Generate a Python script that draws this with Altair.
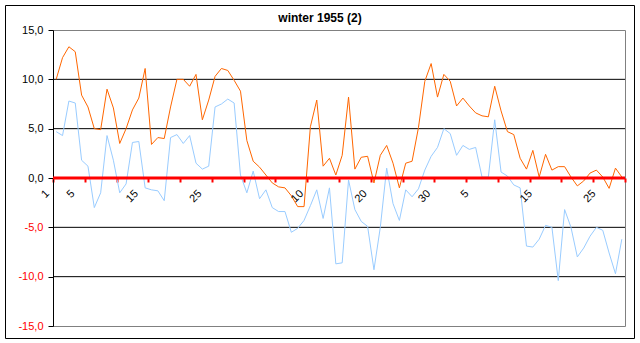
import altair as alt
import pandas as pd

# daily values, 1 Dec 1954 .. 28 Feb 1955 (90 days)
orange = [10.0, 12.2, 13.3, 12.8, 8.4, 7.2, 5.0, 4.9, 9.0, 7.1,
          3.5, 5.0, 6.9, 8.1, 11.1, 3.4, 4.1, 4.0, 7.2, 10.0,
          10.0, 9.3, 10.5, 5.9, 7.9, 10.3, 11.1, 10.9, 9.9, 8.8,
          3.8, 1.7, 1.1, 0.3, -0.5, -0.9, -1.0, -1.8, -2.9, -2.9,
          5.2, 7.9, 1.2, 2.0, 0.3, 2.3, 8.2, 0.9, 2.1, 2.2,
          -0.5, 2.3, 3.3, 1.5, -1.0, 1.5, 1.7, 5.1, 9.8, 11.6,
          8.2, 10.5, 9.8, 7.3, 8.1, 7.3, 6.6, 6.3, 6.2, 9.3,
          6.8, 4.7, 4.4, 2.0, 0.9, 2.8, 0.1, 2.4, 0.8, 1.15,
          1.15, 0.1, -0.8, -0.3, 0.5, 0.8, 0.1, -1.05, 1.0, 0.1]
blue = [4.7, 4.3, 7.8, 7.6, 1.8, 1.2, -3.0, -1.5, 4.3, 1.8,
        -1.5, -0.6, 3.6, 3.7, -1.0, -1.2, -1.3, -2.3, 4.1, 4.4,
        3.5, 4.3, 1.5, 0.9, 1.2, 7.2, 7.5, 8.0, 7.6, 0.3,
        -1.5, 0.7, -2.1, -1.2, -3.0, -3.4, -3.4, -5.5, -5.1, -4.3,
        -2.8, -1.2, -4.1, -1.0, -8.7, -8.6, -0.2, -3.2, -4.4, -4.9,
        -9.3, -5.0, 1.0, -2.6, -4.3, -1.2, -1.9, -1.1, 0.8, 2.2,
        3.1, 5.0, 4.5, 2.3, 3.3, 2.9, 3.1, 0.1, 0.1, 5.9,
        0.6, 0.2, -0.7, -1.0, -6.9, -7.0, -6.2, -4.8, -5.0, -10.4,
        -3.2, -5.0, -8.0, -7.1, -5.9, -5.0, -5.3, -7.6, -9.7, -6.2]

label_idx = [0, 4, 14, 24, 40, 50, 60, 66, 76, 86]
label_txt = ["1", "5", "15", "25", "10", "20", "30", "5", "15", "25"]
tick_pos = [-0.5 + 5 * k for k in range(19)]
y_ticks = [-15, -10, -5, 0, 5, 10, 15]
grid_values = [-10, -5, 5, 10]
title_text = ["winter 1955 (2)"]

n = len(orange)
df = pd.DataFrame({
    "i": list(range(n)) * 2,
    "v": orange + blue,
    "s": ["a"] * n + ["b"] * n,
})
lab_df = pd.DataFrame({"i": label_idx, "t": label_txt})
grid_df = pd.DataFrame({"g": grid_values})
zero_df = pd.DataFrame({"z": [0]})
title_df = pd.DataFrame({"t": title_text})

FONT = "Liberation Sans"
W, H = 572, 296

xscale = alt.Scale(domain=[-0.5, 89.5], nice=False, zero=False)
yscale = alt.Scale(domain=[-15, 15], nice=False, zero=False)

x_axis = alt.Axis(values=tick_pos, labels=False, domain=False, grid=False,
                  tickColor="#FF0000", tickSize=4, tickWidth=2,
                  offset=-H / 2, title=None)
y_axis = alt.Axis(values=y_ticks,
                  labelExpr="replace(replace(format(datum.value, '.1f'), '.', ','), '\u2212', '-')",
                  labelColor={"condition": {"test": "datum.value < 0", "value": "#FF0000"},
                              "value": "#000000"},
                  labelFont=FONT, labelFontSize=11, labelPadding=5,
                  domainColor="#000000", tickColor="#000000", tickSize=5,
                  grid=False, title=None)

grid = alt.Chart(grid_df).mark_rule(color="#000000", strokeWidth=1).encode(
    y=alt.Y("g:Q", scale=yscale, axis=y_axis)
)

lines = alt.Chart(df).mark_line(strokeWidth=1).encode(
    x=alt.X("i:Q", scale=xscale, axis=x_axis),
    y=alt.Y("v:Q", scale=yscale, axis=y_axis),
    color=alt.Color("s:N", scale=alt.Scale(domain=["a", "b"], range=["#FF6600", "#99CCFF"]), legend=None),
    order=alt.Order("i:Q"),
)

zero = alt.Chart(zero_df).mark_rule(color="#FF0000", strokeWidth=3).encode(
    y=alt.Y("z:Q", scale=yscale, axis=y_axis)
)

labels = alt.Chart(lab_df).mark_text(
    angle=315, align="right", baseline="middle", dx=-16, dy=4,
    fontSize=11, font=FONT, color="#000000"
).encode(
    x=alt.X("i:Q", scale=xscale, axis=x_axis),
    y=alt.datum(0),
    text="t:N",
)

frame = alt.Chart(zero_df).mark_rect(fillOpacity=0, stroke="#000000", strokeWidth=1).encode(
    x=alt.value(-47.5), x2=alt.value(581.5), y=alt.value(-24.5), y2=alt.value(308.5)
)

title = alt.Chart(title_df).mark_text(
    align="center", baseline="alphabetic", fontSize=12, fontWeight="bold",
    font=FONT, color="#000000"
).encode(x=alt.value(267), y=alt.value(-8), text="t:N")

chart = alt.layer(grid, lines, zero, labels, frame, title).properties(
    width=W, height=H,
    autosize=alt.AutoSizeParams(type="none"),
    padding={"left": 53, "top": 30, "right": 15, "bottom": 17},
    background="#FFFFFF",
).configure_view(stroke="#808080", strokeWidth=1)

chart.save("out.html", embed_options={"renderer": "svg", "actions": False})
